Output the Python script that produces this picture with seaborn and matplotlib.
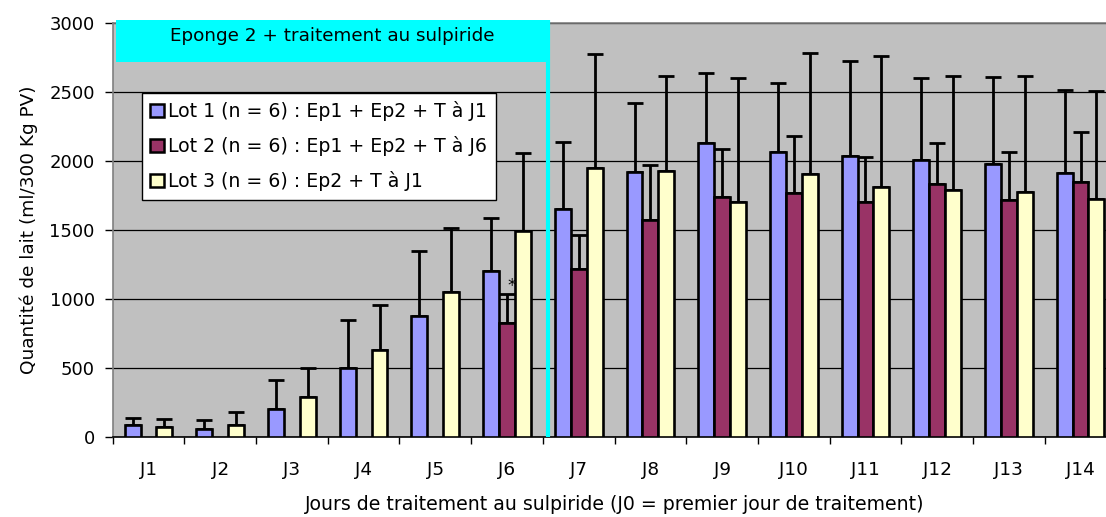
import numpy as np
import pandas as pd
import matplotlib
matplotlib.use("Agg")
import matplotlib.pyplot as plt
import seaborn as sns
from matplotlib.patches import Patch, Rectangle

days = ["J1", "J2", "J3", "J4", "J5", "J6", "J7", "J8", "J9", "J10", "J11", "J12", "J13", "J14"]
lots = ["Lot 1 (n = 6) : Ep1 + Ep2 + T à J1",
        "Lot 2 (n = 6) : Ep1 + Ep2 + T à J6",
        "Lot 3 (n = 6) : Ep2 + T à J1"]

lot1_mean = [87, 58, 205, 500, 879, 1200, 1650, 1918, 2128, 2063, 2036, 2007, 1976, 1911]
lot1_top = [135, 121, 411, 845, 1348, 1587, 2133, 2418, 2633, 2563, 2722, 2597, 2606, 2510]
lot2_mean = [np.nan, np.nan, np.nan, np.nan, np.nan, 828, 1217, 1572, 1737, 1766, 1705, 1833, 1715, 1846]
lot2_top = [np.nan, np.nan, np.nan, np.nan, np.nan, 1034, 1466, 1966, 2082, 2179, 2029, 2126, 2063, 2208]
lot3_mean = [75, 87, 292, 630, 1048, 1493, 1947, 1923, 1700, 1904, 1809, 1785, 1771, 1722]
lot3_top = [128, 179, 498, 954, 1514, 2053, 2775, 2616, 2597, 2780, 2761, 2616, 2614, 2502]

colors = ["#9999FF", "#993366", "#FFFFCC"]

means = [lot1_mean, lot2_mean, lot3_mean]
tops = [lot1_top, lot2_top, lot3_top]
rows = []
for lot, m, t in zip(lots, means, tops):
    for d, mv, tv in zip(days, m, t):
        rows.append({"day": d, "lot": lot, "value": mv, "top": tv})
df = pd.DataFrame(rows)

sns.set_theme(style="white")
plt.rcParams["font.family"] = ["DejaVu Sans"]
plt.rcParams["text.color"] = "black"
plt.rcParams["axes.labelcolor"] = "black"
plt.rcParams["xtick.color"] = "black"
plt.rcParams["ytick.color"] = "black"

fig = plt.figure(figsize=(11.06, 5.17), dpi=100)
ax = fig.add_axes([0.1019, 0.1547, 0.9075, 0.8014])
ax.set_facecolor("#C0C0C0")

sns.barplot(data=df, x="day", y="value", hue="lot", order=days, hue_order=lots,
            palette=dict(zip(lots, colors)), width=0.665, edgecolor="black",
            linewidth=1.9, errorbar=None, legend=False, ax=ax, zorder=3, saturation=1)

# error bars (upper SD only)
for cont, lot in zip(ax.containers, lots):
    sub = df[df["lot"] == lot].dropna(subset=["value"])
    sub_map = dict(zip(sub["day"], sub["top"]))
    xs, ys, errs = [], [], []
    for bar in cont:
        h = bar.get_height()
        if np.isnan(h) or h == 0:
            continue
        xc = bar.get_x() + bar.get_width() / 2
        idx = int(round(xc))
        t = sub_map.get(days[idx], np.nan)
        if np.isnan(t):
            continue
        xs.append(xc); ys.append(h); errs.append(t - h)
    ax.errorbar(xs, ys, yerr=[np.zeros(len(errs)), errs], fmt="none", ecolor="black",
                elinewidth=2.0, capsize=5.5, capthick=2.0, zorder=2.5)

ax.set_ylim(0, 3000)
ax.set_xlim(-0.5, len(days) - 0.5)
ax.set_yticks(np.arange(0, 3001, 500))
ax.yaxis.grid(True, color="black", linewidth=0.9)
ax.set_axisbelow(True)

ax.set_xticks(np.arange(-0.5, len(days), 1.0), minor=True)
ax.tick_params(axis="x", which="major", length=0, pad=17, labelsize=13.3)
ax.tick_params(axis="x", which="minor", length=5, width=1, color="black", direction="out")
ax.tick_params(axis="y", length=6, width=1, color="black", direction="out", pad=7, labelsize=13)
ax.tick_params(axis="x", bottom=True, which="both")
ax.tick_params(axis="y", left=True)

for s in ["left", "top"]:
    ax.spines[s].set_color("#808080")
    ax.spines[s].set_linewidth(1.2)
ax.spines["bottom"].set_color("black")
ax.spines["bottom"].set_linewidth(1.2)
ax.spines["right"].set_visible(False)

ax.set_xlabel("Jours de traitement au sulpiride (J0 = premier jour de traitement)", fontsize=13.6, labelpad=12)
ax.set_ylabel("Quantité de lait (ml/300 Kg PV)", fontsize=13.3, labelpad=8)

# treatment period marker
sep_x = 5.567
box = Rectangle((-0.455, 2712), sep_x + 0.455, 310, facecolor="#00FFFF", edgecolor="none",
                zorder=4, clip_on=False)
ax.add_patch(box)
ax.text((-0.455 + sep_x) / 2, 2905, "Eponge 2 + traitement au sulpiride", ha="center", va="center",
        fontsize=13.2, zorder=5)
ax.plot([sep_x, sep_x], [0, 3020], color="#00FFFF", linewidth=3, zorder=4, clip_on=False,
        solid_capstyle="butt")

ax.text(5.07, 1090, "*", ha="center", va="center", fontsize=12, zorder=5)

handles = [Patch(facecolor=c, edgecolor="black", linewidth=1.8) for c in colors]
leg = ax.legend(handles, lots, loc="upper left", bbox_to_anchor=(0.029, 0.831),
                frameon=True, fancybox=False, framealpha=1, edgecolor="black",
                fontsize=13.6, handlelength=0.7, handleheight=0.7, handletextpad=0.25,
                borderpad=0.45, labelspacing=0.8, borderaxespad=0)
leg.get_frame().set_linewidth(1.0)
leg.set_zorder(6)

fig.savefig("out.png", dpi=100)
